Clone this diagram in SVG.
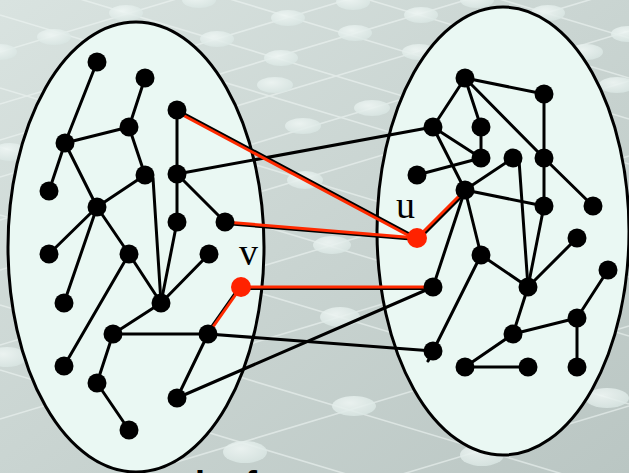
<svg xmlns="http://www.w3.org/2000/svg" width="629" height="473" viewBox="0 0 629 473">
<defs>
<linearGradient id="bg" x1="0" y1="0" x2="1" y2="1">
<stop offset="0" stop-color="#D9E3E0"/>
<stop offset="1" stop-color="#BAC6C3"/>
</linearGradient>
<radialGradient id="blob" cx="0.4" cy="0.35" r="0.7">
<stop offset="0" stop-color="#F0F7F5"/>
<stop offset="1" stop-color="#D8E5E2"/>
</radialGradient>
<style>
.mesh{stroke:#EEF5F3;stroke-width:1.6;opacity:0.6;fill:none}
.bl{fill:url(#blob);opacity:0.85}
.oval{fill:#EAF8F3;stroke:#000;stroke-width:3}
.e{stroke:#000;stroke-width:3;fill:none;stroke-linecap:round}
.r{stroke:#FF2A00;stroke-width:3;fill:none;stroke-linecap:round}
.n{fill:#000}
.rn{fill:#FF2200}
.lab{font-family:"Liberation Serif","Times New Roman",serif;font-size:38px;fill:#000}
.cap{font-family:"Liberation Sans",Arial,sans-serif;font-size:36px;font-weight:bold;fill:#000}
</style>
</defs>
<rect width="629" height="473" fill="url(#bg)"/>
<g id="background-mesh">
<g class="mesh">
<line x1="0" y1="52" x2="629" y2="-137"/>
<line x1="0" y1="104" x2="629" y2="-85"/>
<line x1="0" y1="140" x2="629" y2="-49"/>
<line x1="0" y1="177" x2="629" y2="-12"/>
<line x1="0" y1="220" x2="629" y2="31"/>
<line x1="0" y1="270" x2="629" y2="81"/>
<line x1="0" y1="345" x2="629" y2="156"/>
<line x1="0" y1="419" x2="629" y2="230"/>
<line x1="0" y1="515" x2="629" y2="326"/>
<line x1="0" y1="595" x2="629" y2="406"/>
<line x1="0" y1="690" x2="629" y2="501"/>
<line x1="0" y1="-151" x2="629" y2="38"/>
<line x1="0" y1="-111" x2="629" y2="78"/>
<line x1="0" y1="-70" x2="629" y2="119"/>
<line x1="0" y1="-25" x2="629" y2="164"/>
<line x1="0" y1="15" x2="629" y2="204"/>
<line x1="0" y1="88" x2="629" y2="277"/>
<line x1="0" y1="147" x2="629" y2="336"/>
<line x1="0" y1="215" x2="629" y2="404"/>
<line x1="0" y1="305" x2="629" y2="494"/>
<line x1="0" y1="370" x2="629" y2="559"/>
</g>
<ellipse class="bl" cx="54" cy="37" rx="17" ry="8"/>
<ellipse class="bl" cx="126" cy="13" rx="17" ry="8"/>
<ellipse class="bl" cx="199" cy="0" rx="17" ry="8"/>
<ellipse class="bl" cx="217" cy="39" rx="17" ry="8"/>
<ellipse class="bl" cx="288" cy="18" rx="17" ry="8"/>
<ellipse class="bl" cx="353" cy="2" rx="17" ry="8"/>
<ellipse class="bl" cx="355" cy="33" rx="17" ry="8"/>
<ellipse class="bl" cx="421" cy="15" rx="17" ry="8"/>
<ellipse class="bl" cx="477" cy="0" rx="17" ry="8"/>
<ellipse class="bl" cx="548" cy="13" rx="17" ry="8"/>
<ellipse class="bl" cx="586" cy="52" rx="17" ry="8"/>
<ellipse class="bl" cx="628" cy="34" rx="17" ry="8"/>
<ellipse class="bl" cx="281" cy="58" rx="17" ry="8"/>
<ellipse class="bl" cx="419" cy="52" rx="17" ry="8"/>
<ellipse class="bl" cx="0" cy="52" rx="17" ry="8"/>
<ellipse class="bl" cx="275" cy="85" rx="18" ry="8"/>
<ellipse class="bl" cx="372" cy="108" rx="18" ry="8"/>
<ellipse class="bl" cx="303" cy="126" rx="18" ry="8"/>
<ellipse class="bl" cx="617" cy="85" rx="18" ry="8"/>
<ellipse class="bl" cx="10" cy="152" rx="18" ry="9"/>
<ellipse class="bl" cx="305" cy="180" rx="18" ry="9"/>
<ellipse class="bl" cx="332" cy="245" rx="19" ry="9"/>
<ellipse class="bl" cx="340" cy="317" rx="20" ry="10"/>
<ellipse class="bl" cx="7" cy="357" rx="20" ry="10"/>
<ellipse class="bl" cx="354" cy="406" rx="22" ry="10"/>
<ellipse class="bl" cx="245" cy="452" rx="22" ry="11"/>
<ellipse class="bl" cx="607" cy="398" rx="22" ry="10"/>
<ellipse class="bl" cx="482" cy="455" rx="22" ry="11"/>
</g>
<g id="left-oval"><ellipse class="oval" cx="136" cy="247" rx="128" ry="225"/></g>
<g id="right-oval"><ellipse class="oval" cx="503" cy="231" rx="126" ry="224"/></g>
<g id="connectors">
<line class="e" x1="97" y1="62" x2="65" y2="143"/>
<line class="e" x1="145" y1="78" x2="129" y2="127"/>
<line class="e" x1="129" y1="127" x2="65" y2="143"/>
<line class="e" x1="129" y1="127" x2="145" y2="175"/>
<line class="e" x1="65" y1="143" x2="49" y2="191"/>
<line class="e" x1="65" y1="143" x2="97" y2="207"/>
<line class="e" x1="145" y1="175" x2="97" y2="207"/>
<line class="e" x1="153" y1="178" x2="161" y2="303"/>
<line class="e" x1="177" y1="110" x2="177" y2="174"/>
<line class="e" x1="177" y1="174" x2="177" y2="222"/>
<line class="e" x1="177" y1="174" x2="225" y2="222"/>
<line class="e" x1="177" y1="222" x2="161" y2="303"/>
<line class="e" x1="97" y1="207" x2="49" y2="254"/>
<line class="e" x1="97" y1="207" x2="64" y2="303"/>
<line class="e" x1="97" y1="207" x2="129" y2="254"/>
<line class="e" x1="129" y1="254" x2="161" y2="303"/>
<line class="e" x1="129" y1="254" x2="64" y2="366"/>
<line class="e" x1="209" y1="254" x2="161" y2="303"/>
<line class="e" x1="161" y1="303" x2="113" y2="334"/>
<line class="e" x1="113" y1="334" x2="208" y2="334"/>
<line class="e" x1="113" y1="334" x2="97" y2="383"/>
<line class="e" x1="97" y1="383" x2="129" y2="430"/>
<line class="e" x1="208" y1="334" x2="177" y2="398"/>
<line class="e" x1="177" y1="174" x2="433" y2="127"/>
<line class="e" x1="208" y1="334" x2="433" y2="351"/>
<line class="e" x1="177" y1="398" x2="433" y2="287"/>
<line class="e" x1="465" y1="78" x2="544" y2="94"/>
<line class="e" x1="465" y1="78" x2="433" y2="127"/>
<line class="e" x1="465" y1="78" x2="481" y2="127"/>
<line class="e" x1="465" y1="78" x2="544" y2="158"/>
<line class="e" x1="544" y1="94" x2="544" y2="158"/>
<line class="e" x1="433" y1="127" x2="481" y2="158"/>
<line class="e" x1="433" y1="127" x2="465" y2="190"/>
<line class="e" x1="481" y1="127" x2="481" y2="158"/>
<line class="e" x1="481" y1="158" x2="417" y2="175"/>
<line class="e" x1="513" y1="158" x2="465" y2="190"/>
<line class="e" x1="519" y1="160" x2="528" y2="287"/>
<line class="e" x1="544" y1="158" x2="544" y2="206"/>
<line class="e" x1="544" y1="158" x2="593" y2="206"/>
<line class="e" x1="465" y1="190" x2="544" y2="206"/>
<line class="e" x1="465" y1="190" x2="481" y2="255"/>
<line class="e" x1="465" y1="190" x2="433" y2="287"/>
<line class="e" x1="544" y1="206" x2="528" y2="287"/>
<line class="e" x1="577" y1="238" x2="528" y2="287"/>
<line class="e" x1="481" y1="255" x2="528" y2="287"/>
<line class="e" x1="481" y1="255" x2="428" y2="361"/>
<line class="e" x1="528" y1="287" x2="513" y2="334"/>
<line class="e" x1="513" y1="334" x2="577" y2="318"/>
<line class="e" x1="577" y1="318" x2="608" y2="270"/>
<line class="e" x1="577" y1="318" x2="577" y2="367"/>
<line class="e" x1="513" y1="334" x2="465" y2="367"/>
<line class="e" x1="465" y1="367" x2="528" y2="367"/>
<g id="highlighted">
<line class="e" x1="177" y1="110" x2="417" y2="238"/>
<line class="r" x1="177" y1="112" x2="417" y2="240"/>
<line class="e" x1="225" y1="223.5" x2="417" y2="239.5"/>
<line class="r" x1="225" y1="222" x2="417" y2="238"/>
<line class="e" x1="241" y1="288.5" x2="433" y2="288.5"/>
<line class="r" x1="241" y1="287" x2="433" y2="287"/>
<line class="e" x1="239.5" y1="287" x2="206.5" y2="334"/>
<line class="r" x1="241" y1="287" x2="208" y2="334"/>
<line class="e" x1="418.5" y1="239.5" x2="466.5" y2="191.5"/>
<line class="r" x1="417" y1="238" x2="465" y2="190"/>
</g>
</g>
<g id="left-nodes">
<circle id="nA" class="n" cx="97" cy="62" r="9.5"/>
<circle id="nB" class="n" cx="145" cy="78" r="9.5"/>
<circle id="nC" class="n" cx="177" cy="110" r="9.5"/>
<circle id="nD" class="n" cx="129" cy="127" r="9.5"/>
<circle id="nE" class="n" cx="65" cy="143" r="9.5"/>
<circle id="nF" class="n" cx="145" cy="175" r="9.5"/>
<circle id="nG" class="n" cx="177" cy="174" r="9.5"/>
<circle id="nH" class="n" cx="49" cy="191" r="9.5"/>
<circle id="nI" class="n" cx="97" cy="207" r="9.5"/>
<circle id="nJ" class="n" cx="177" cy="222" r="9.5"/>
<circle id="nK" class="n" cx="225" cy="222" r="9.5"/>
<circle id="nL1" class="n" cx="49" cy="254" r="9.5"/>
<circle id="nL2" class="n" cx="129" cy="254" r="9.5"/>
<circle id="nL3" class="n" cx="209" cy="254" r="9.5"/>
<circle id="nM1" class="n" cx="64" cy="303" r="9.5"/>
<circle id="nM2" class="n" cx="161" cy="303" r="9.5"/>
<circle id="nN1" class="n" cx="113" cy="334" r="9.5"/>
<circle id="nN2" class="n" cx="208" cy="334" r="9.5"/>
<circle id="nO1" class="n" cx="64" cy="366" r="9.5"/>
<circle id="nO2" class="n" cx="97" cy="383" r="9.5"/>
<circle id="nO3" class="n" cx="177" cy="398" r="9.5"/>
<circle id="nO4" class="n" cx="129" cy="430" r="9.5"/>
</g>
<g id="node-v">
<circle class="rn" cx="241" cy="287" r="10"/>
<text class="lab" x="239" y="265">v</text>
</g>
<g id="right-nodes">
<circle id="na" class="n" cx="465" cy="78" r="9.5"/>
<circle id="nb" class="n" cx="544" cy="94" r="9.5"/>
<circle id="nc" class="n" cx="433" cy="127" r="9.5"/>
<circle id="nd" class="n" cx="481" cy="127" r="9.5"/>
<circle id="ne" class="n" cx="481" cy="158" r="9.5"/>
<circle id="nf" class="n" cx="513" cy="158" r="9.5"/>
<circle id="ng" class="n" cx="544" cy="158" r="9.5"/>
<circle id="nh" class="n" cx="417" cy="175" r="9.5"/>
<circle id="ni" class="n" cx="465" cy="190" r="9.5"/>
<circle id="nj" class="n" cx="544" cy="206" r="9.5"/>
<circle id="nk" class="n" cx="593" cy="206" r="9.5"/>
<circle id="nl" class="n" cx="577" cy="238" r="9.5"/>
<circle id="nm" class="n" cx="481" cy="255" r="9.5"/>
<circle id="nn" class="n" cx="608" cy="270" r="9.5"/>
<circle id="np" class="n" cx="433" cy="287" r="9.5"/>
<circle id="nq" class="n" cx="528" cy="287" r="9.5"/>
<circle id="nr" class="n" cx="577" cy="318" r="9.5"/>
<circle id="ns" class="n" cx="513" cy="334" r="9.5"/>
<circle id="nt" class="n" cx="433" cy="351" r="9.5"/>
<circle id="nw1" class="n" cx="465" cy="367" r="9.5"/>
<circle id="nw2" class="n" cx="528" cy="367" r="9.5"/>
<circle id="nw3" class="n" cx="577" cy="367" r="9.5"/>
</g>
<g id="node-u">
<circle class="rn" cx="417" cy="238" r="10"/>
<text class="lab" x="396" y="218">u</text>
</g>
<g id="caption-fragment">
<text class="cap" x="195" y="497">i</text>
<text class="cap" x="245" y="497">f</text>
</g>
</svg>
